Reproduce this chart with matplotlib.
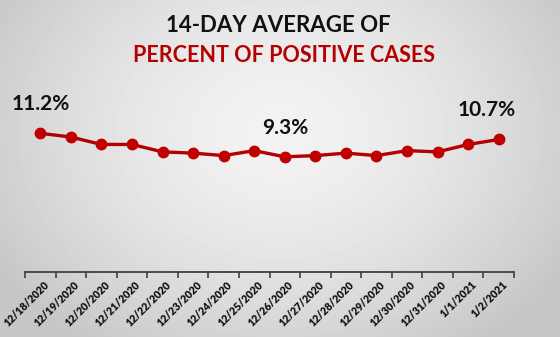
import numpy as np
import matplotlib.pyplot as plt
import matplotlib.transforms as mtransforms

dates = ['12/18/2020', '12/19/2020', '12/20/2020', '12/21/2020', '12/22/2020',
         '12/23/2020', '12/24/2020', '12/25/2020', '12/26/2020', '12/27/2020',
         '12/28/2020', '12/29/2020', '12/30/2020', '12/31/2020', '1/1/2021', '1/2/2021']
pct = [11.2, 10.9, 10.3, 10.3, 9.7, 9.6, 9.4, 9.8, 9.3, 9.4, 9.6, 9.4, 9.8, 9.7, 10.3, 10.7]
labeled = [0, 8, 15]

red = '#B40000'
W, H = 560, 337

fig = plt.figure(figsize=(W / 100, H / 100), dpi=100)

# radial grey background
bg = fig.add_axes([0, 0, 1, 1])
yy, xx = np.mgrid[0:H, 0:W]
r = np.sqrt(((xx - 280) / 330) ** 2 + ((yy - 130) / 260) ** 2)
grad = 0.95 - 0.17 * np.clip(r, 0, 1) ** 1.6
bg.imshow(grad, cmap='gray', vmin=0, vmax=1, aspect='auto', extent=[0, W, H, 0])
bg.axis('off')

fig.text(0.497, 1 - 25 / H, '14-DAY AVERAGE OF', ha='center', va='center',
         fontsize=16, fontweight='bold', family='Lato', color='#111111')
fig.text(0.507, 1 - 55 / H, 'PERCENT OF POSITIVE CASES', ha='center', va='center',
         fontsize=15.5, fontweight='bold', family='Lato', color=red)

left, right, bottom, top = 25, 514, 272, 123.4
ax = fig.add_axes([left / W, 1 - bottom / H, (right - left) / W, (bottom - top) / H])
ax.patch.set_alpha(0)
x = np.arange(len(dates))
ax.plot(x, pct, color=red, lw=2.4, marker='o', ms=7.5, mfc='#C00000', mec='#C00000', clip_on=False)
ax.set_xlim(-0.5, len(dates) - 0.5)
ax.set_ylim(0, 12)

for i in labeled:
    dx = -0.4 if i == len(dates) - 1 else 0
    ax.annotate(f'{pct[i]}%', (x[i] + dx, pct[i]), xytext=(0, 21), textcoords='offset points',
                ha='center', va='center', fontsize=15, fontweight='bold', family='Lato',
                color='#111111', annotation_clip=False)

for s in ['top', 'right', 'left']:
    ax.spines[s].set_visible(False)
ax.spines['bottom'].set_color('#404040')
ax.spines['bottom'].set_linewidth(1.3)
ax.set_yticks([])
ax.set_xticks(x)
ax.set_xticklabels(dates, rotation=45, ha='right', rotation_mode='anchor',
                   fontsize=7.6, fontweight='heavy', family='Lato', color='#111111')
ax.tick_params(axis='x', which='major', length=0, pad=5)
shift = mtransforms.ScaledTranslation(3 / 100, 0, fig.dpi_scale_trans)
for lbl in ax.get_xticklabels():
    lbl.set_transform(lbl.get_transform() + shift)
ax.set_xticks(np.arange(-0.5, len(dates)), minor=True)
ax.tick_params(axis='x', which='minor', length=4, width=1.2, color='#404040')

fig.savefig('out.png', dpi=100)
